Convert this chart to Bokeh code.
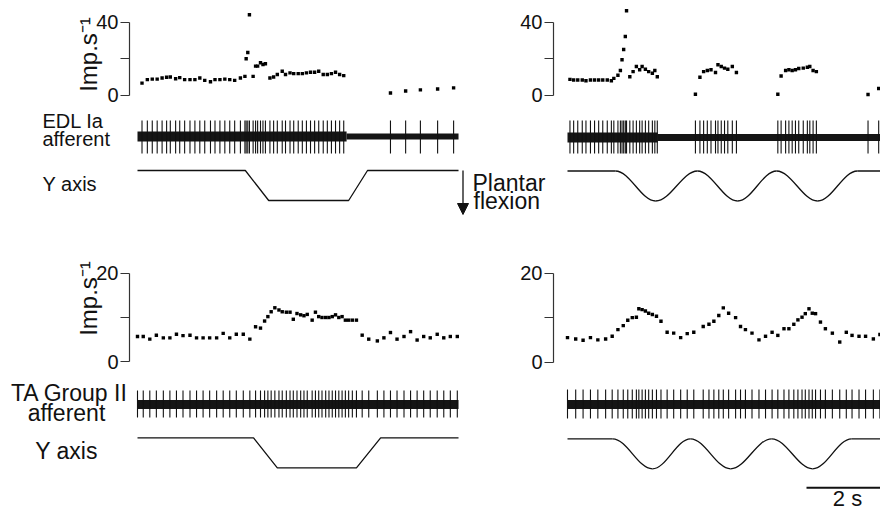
from bokeh.plotting import figure
from bokeh.models import Range1d, FixedTicker, Label, Arrow, NormalHead
from bokeh.layouts import column, row
from bokeh.embed import file_html
from bokeh.resources import INLINE

# ---------------- data ----------------
# Instantaneous discharge rate (imp/s) at each spike time (s from start of trace)
EDL_STEP_T = [0.11, 0.24, 0.36, 0.48, 0.60, 0.71, 0.80, 0.93, 1.03, 1.15, 1.28, 1.40, 1.52, 1.64, 1.78,
              1.89, 2.01, 2.13, 2.25, 2.37, 2.51, 2.62, 2.65, 2.69, 2.73, 2.82, 2.88, 2.93, 3.00, 3.06,
              3.12, 3.23, 3.32, 3.41, 3.53, 3.61, 3.72, 3.81, 3.92, 4.02, 4.12, 4.22, 4.32, 4.42, 4.53,
              4.63, 4.73, 4.83, 4.93, 5.03, 6.17, 6.54, 6.90, 7.32, 7.71]
EDL_STEP_R = [6.5, 8.4, 8.7, 8.7, 9.3, 9.7, 9.9, 8.9, 9.5, 8.4, 8.4, 8.4, 9.3, 8.0, 7.3,
              8.4, 8.4, 8.7, 8.4, 8.0, 9.3, 10.2, 19.9, 23.3, 44.0, 10.2, 15.8, 15.8, 17.7, 16.7,
              17.1, 9.3, 9.9, 11.2, 13.0, 11.2, 12.1, 11.7, 11.7, 11.7, 12.1, 12.5, 12.5, 13.0, 11.2,
              11.2, 11.7, 12.5, 11.2, 10.6, 1.1, 2.2, 2.8, 3.3, 3.9]

EDL_SINE_T = [0.06, 0.15, 0.25, 0.36, 0.45, 0.56, 0.66, 0.76, 0.86, 0.97, 1.07, 1.13, 1.23, 1.29, 1.33,
              1.37, 1.41, 1.44, 1.52, 1.60, 1.68, 1.76, 1.82, 1.90, 1.98, 2.07, 2.13, 2.19,
              3.12, 3.23, 3.32, 3.41, 3.50, 3.61, 3.67, 3.75, 3.83, 3.91, 4.02, 4.12,
              5.13, 5.21, 5.32, 5.40, 5.48, 5.56, 5.64, 5.75, 5.85, 5.91, 5.99, 6.07,
              7.33, 7.59, 7.70]
EDL_SINE_R = [8.7, 8.4, 8.4, 8.4, 8.0, 8.4, 8.4, 8.4, 8.4, 8.4, 8.0, 9.3, 11.0, 13.6, 19.5,
              25.1, 32.2, 46.3, 10.2, 13.0, 15.8, 14.0, 15.8, 14.3, 13.0, 12.1, 13.6, 10.2,
              0.6, 9.9, 13.0, 13.6, 14.0, 12.5, 16.7, 15.8, 14.9, 14.3, 15.8, 12.5,
              0.6, 10.6, 13.6, 14.0, 13.6, 14.0, 14.7, 14.9, 15.4, 15.8, 13.6, 13.0,
              0.4, 3.7, 5.6]

TA_STEP_T = [0.00, 0.14, 0.30, 0.46, 0.63, 0.79, 0.95, 1.11, 1.28, 1.44, 1.60, 1.76, 1.93, 2.09, 2.25,
             2.41, 2.58, 2.74, 2.88, 3.00, 3.10, 3.18, 3.26, 3.35, 3.45, 3.53, 3.63, 3.72, 3.80, 3.89,
             3.98, 4.06, 4.14, 4.26, 4.34, 4.42, 4.50, 4.59, 4.67, 4.75, 4.83, 4.91, 4.99, 5.07, 5.15,
             5.24, 5.34, 5.48, 5.64, 5.85, 6.01, 6.17, 6.33, 6.50, 6.66, 6.82, 6.98, 7.14, 7.31, 7.47,
             7.63, 7.80]
TA_STEP_R = [5.7, 5.7, 5.1, 6.0, 5.4, 5.4, 6.2, 5.9, 6.0, 5.4, 5.4, 5.4, 5.4, 6.4, 5.4,
             6.2, 6.2, 5.1, 7.9, 7.6, 9.2, 10.2, 11.3, 12.2, 11.7, 11.3, 11.2, 11.2, 9.6, 10.9,
             10.6, 10.4, 10.7, 9.4, 11.2, 10.2, 10.0, 10.0, 10.0, 10.2, 10.6, 10.0, 10.2, 9.4, 9.4,
             9.4, 9.4, 6.0, 5.1, 4.7, 5.4, 6.6, 5.1, 5.7, 6.8, 4.9, 5.7, 5.4, 6.2, 5.4,
             5.7, 5.7]

TA_SINE_T = [0.00, 0.20, 0.38, 0.56, 0.74, 0.93, 1.09, 1.23, 1.36, 1.47, 1.58, 1.68, 1.74, 1.82, 1.90,
             1.98, 2.07, 2.17, 2.28, 2.43, 2.59, 2.76, 2.92, 3.08, 3.31, 3.45, 3.57, 3.69, 3.80, 3.93,
             4.10, 4.22, 4.34, 4.50, 4.67, 4.83, 4.99, 5.13, 5.28, 5.40, 5.52, 5.62, 5.72, 5.80, 5.89,
             5.97, 6.05, 6.17, 6.29, 6.46, 6.64, 6.80, 6.94, 7.11, 7.27, 7.46, 7.62]
TA_SINE_R = [5.5, 5.2, 4.9, 5.5, 5.0, 5.2, 5.8, 7.3, 8.2, 9.4, 10.0, 10.1, 12.0, 11.8, 11.5,
             11.0, 10.7, 10.3, 9.2, 6.7, 6.5, 5.5, 6.4, 6.7, 8.0, 8.5, 9.2, 10.5, 12.2, 11.0,
             10.0, 8.0, 7.3, 6.5, 5.0, 5.8, 6.7, 6.0, 7.5, 7.5, 8.5, 9.5, 10.1, 10.9, 12.0,
             11.0, 10.9, 9.0, 7.5, 6.5, 4.5, 6.7, 6.0, 5.8, 5.8, 5.2, 6.2]

# Raw neurogram: spike amplitudes (up, down; a.u.) and baseline-noise band (start s, end s, half width)
EDL_STEP_SPIKE = (16, 17)
EDL_SINE_SPIKE = (17, 16)
TA_STEP_SPIKE = (14, 13)
TA_SINE_SPIKE = (15, 14)
EDL_STEP_NOISE_T0, EDL_STEP_NOISE_T1, EDL_STEP_NOISE_HW = [0.0, 5.1], [5.1, 7.83], [5.0, 3.0]
EDL_SINE_NOISE_T0, EDL_SINE_NOISE_T1, EDL_SINE_NOISE_HW = [0.0, 2.2], [2.2, 7.75], [5.0, 3.5]
TA_STEP_NOISE_T0, TA_STEP_NOISE_T1, TA_STEP_NOISE_HW = [0.0], [7.83], [4.5]
TA_SINE_NOISE_T0, TA_SINE_NOISE_T1, TA_SINE_NOISE_HW = [0.0], [7.75], [4.5]

# Y-axis (plantar flexion) displacement, normalised
EDL_RAMP_T = [0.0, 2.63, 3.20, 5.15, 5.61, 7.83]
TA_RAMP_T = [0.0, 2.83, 3.41, 5.34, 5.93, 7.83]
RAMP_POS = [0, 0, -1, -1, 0, 0]
EDL_SINE_EXT_T = [1.17, 2.15, 3.17, 4.15, 5.10, 6.10, 7.07]
TA_SINE_EXT_T = [1.10, 2.07, 3.00, 3.98, 4.98, 5.98, 6.93]
SINE_EXT_POS = [0, -1, 0, -1, 0, -1, 0]
SINE_DUR = 7.75

RATE_TICKS_TOP = [0, 20, 40]
RATE_LABELLED_TOP = [0, 40]
RATE_TICKS_BOT = [0, 10, 20]
RATE_LABELLED_BOT = [0, 20]
SCALE_S = 2

# ---------------- layout helpers (page pixels) ----------------
PXS = 41.0          # pixels per second
FONT = "Liberation Sans"
BEZ_K = 0.3634      # cubic-bezier control offset for a cosine-like half cycle
W_LEFT, W_RIGHT = 505, 375
W_ALL = W_LEFT + W_RIGHT


def xr(frame_left, frame_w, origin):
    s = (frame_left - origin) / PXS
    return Range1d(s, s + frame_w / PXS)


def yr(frame_top, frame_h, v0, p0, v1, p1):
    k = (p1 - p0) / (v1 - v0)
    span = -frame_h / k
    end = v0 + (p0 - frame_top) / (-k)
    return Range1d(end - span, end)


def make_fig(width, height, mb_left, x_range, y_range, axis):
    p = figure(width=width, height=height, x_range=x_range, y_range=y_range,
               output_backend="svg", toolbar_location=None, tools="",
               x_axis_location=None, y_axis_location=("left" if axis else None),
               min_border_left=mb_left, min_border_right=0, min_border_top=0, min_border_bottom=0)
    p.outline_line_color = None
    p.xgrid.visible = False
    p.ygrid.visible = False
    p.background_fill_color = "white"
    p.border_fill_color = "white"
    return p


def style_axis(p, ticks, labelled, label):
    ax = p.yaxis[0]
    ax.ticker = FixedTicker(ticks=ticks)
    ax.major_label_overrides = {t: (str(t) if t in labelled else "") for t in ticks}
    ax.bounds = (ticks[0], ticks[-1])
    ax.major_tick_out = 9
    ax.major_tick_in = 0
    ax.minor_tick_line_color = None
    ax.major_label_standoff = 2
    ax.major_label_text_font = FONT
    ax.major_label_text_font_size = "20px"
    ax.major_label_text_color = "#111111"
    ax.axis_line_color = "#333333"
    ax.major_tick_line_color = "#333333"
    ax.axis_line_width = 1.2
    ax.major_tick_line_width = 1.2
    if label:
        ax.axis_label = label
        ax.axis_label_text_font = FONT
        ax.axis_label_text_font_style = "normal"
        ax.axis_label_text_font_size = "24px"
        ax.axis_label_text_color = "#111111"
        ax.axis_label_standoff = -9


def rate_panel(width, height, top, x_off, mb_left, origin, t, r, p0, p_top, ticks, labelled, label):
    frame_left = x_off + mb_left
    p = make_fig(width, height, mb_left, xr(frame_left, width - mb_left, origin),
                 yr(top, height, 0, p0, ticks[-1], p_top), True)
    style_axis(p, ticks, labelled, label)
    p.scatter(t, r, marker="square", size=3.4, fill_color="black", line_color=None)
    return p


def add_text(p, x, baseline, text, size, align="left", x_range_name="default"):
    # place by visual middle: middle = baseline - 0.4 em
    p.add_layout(Label(x=x, y=baseline - 0.4 * size, text=text, text_font=FONT,
                       text_font_size=f"{size}px", text_color="#111111",
                       text_baseline="middle", text_align=align, x_range_name=x_range_name))


def neurogram(p, xname, yname, spike_t, amp, t0, t1, hw):
    p.quad(left=t0, right=t1, bottom=[-h for h in hw], top=hw, fill_color="#151515",
           line_color=None, x_range_name=xname, y_range_name=yname)
    up, down = amp
    p.segment(x0=spike_t, y0=[-down] * len(spike_t), x1=spike_t, y1=[up] * len(spike_t),
              line_color="#111111", line_width=1.1, x_range_name=xname, y_range_name=yname)


def ramp(p, xname, yname, t, pos):
    p.line(t, pos, line_color="#111111", line_width=1.3, x_range_name=xname, y_range_name=yname)


def sine(p, xname, yname, ext_t, ext_pos, dur):
    p.line([0, ext_t[0]], [ext_pos[0], ext_pos[0]], line_color="#111111", line_width=1.3,
           x_range_name=xname, y_range_name=yname)
    p.line([ext_t[-1], dur], [ext_pos[-1], ext_pos[-1]], line_color="#111111", line_width=1.3,
           x_range_name=xname, y_range_name=yname)
    x0, x1 = ext_t[:-1], ext_t[1:]
    y0, y1 = ext_pos[:-1], ext_pos[1:]
    cx0 = [a + BEZ_K * (b - a) for a, b in zip(x0, x1)]
    cx1 = [b - BEZ_K * (b - a) for a, b in zip(x0, x1)]
    p.bezier(x0=x0, y0=y0, x1=x1, y1=y1, cx0=cx0, cy0=y0, cx1=cx1, cy1=y1,
             line_color="#111111", line_width=1.3, x_range_name=xname, y_range_name=yname)


# ---------------- band A: EDL rates (page y 0-108) ----------------
A1 = rate_panel(W_LEFT, 108, 0, 0, 129, 137, EDL_STEP_T, EDL_STEP_R, 94.5, 21.5,
                RATE_TICKS_TOP, RATE_LABELLED_TOP, "Imp.s⁻¹")
A2 = rate_panel(W_RIGHT, 108, 0, W_LEFT, 48, 567, EDL_SINE_T, EDL_SINE_R, 94.8, 21.8,
                RATE_TICKS_TOP, RATE_LABELLED_TOP, None)

# ---------------- band B: EDL neurogram + position (page y 108-222) ----------------
B = make_fig(W_ALL, 114, 0, Range1d(0, W_ALL), Range1d(222, 108), False)
B.extra_x_ranges = {"L": xr(0, W_ALL, 137), "R": xr(0, W_ALL, 567)}
B.extra_y_ranges = {"spkL": yr(108, 114, 0, 136, 1, 135), "spkR": yr(108, 114, 0, 137, 1, 136),
                    "posL": yr(108, 114, 0, 170, -1, 200), "posR": yr(108, 114, 0, 170.5, -1, 200.5)}
neurogram(B, "L", "spkL", EDL_STEP_T, EDL_STEP_SPIKE, EDL_STEP_NOISE_T0, EDL_STEP_NOISE_T1, EDL_STEP_NOISE_HW)
neurogram(B, "R", "spkR", EDL_SINE_T, EDL_SINE_SPIKE, EDL_SINE_NOISE_T0, EDL_SINE_NOISE_T1, EDL_SINE_NOISE_HW)
ramp(B, "L", "posL", EDL_RAMP_T, RAMP_POS)
sine(B, "R", "posR", EDL_SINE_EXT_T, SINE_EXT_POS, SINE_DUR)
add_text(B, 42, 128.5, "EDL Ia", 20)
add_text(B, 42, 146.5, "afferent", 20)
add_text(B, 42, 191.5, "Y axis", 20)
add_text(B, 472, 191.5, "Plantar", 23)
add_text(B, 473, 210, "flexion", 23)
B.add_layout(Arrow(x_start=462.5, y_start=170, x_end=462.5, y_end=214, line_width=1.3,
                   line_color="#111111",
                   end=NormalHead(size=11, fill_color="#111111", line_color="#111111")))

# ---------------- band C: TA rates (page y 222-374) ----------------
C1 = rate_panel(W_LEFT, 152, 222, 0, 129, 137, TA_STEP_T, TA_STEP_R, 361.2, 272.8,
                RATE_TICKS_BOT, RATE_LABELLED_BOT, "Imp.s⁻¹")
C2 = rate_panel(W_RIGHT, 152, 222, W_LEFT, 48, 567, TA_SINE_T, TA_SINE_R, 361.5, 272.8,
                RATE_TICKS_BOT, RATE_LABELLED_BOT, None)

# ---------------- band D: TA neurogram + position + scale bar (page y 374-510) ----------------
D = make_fig(W_ALL, 136, 0, Range1d(0, W_ALL), Range1d(510, 374), False)
D.extra_x_ranges = {"L": xr(0, W_ALL, 137), "R": xr(0, W_ALL, 567)}
D.extra_y_ranges = {"spkL": yr(374, 136, 0, 404, 1, 403), "spkR": yr(374, 136, 0, 404, 1, 403),
                    "posL": yr(374, 136, 0, 437.3, -1, 467.3), "posR": yr(374, 136, 0, 438.3, -1, 468.3)}
neurogram(D, "L", "spkL", TA_STEP_T, TA_STEP_SPIKE, TA_STEP_NOISE_T0, TA_STEP_NOISE_T1, TA_STEP_NOISE_HW)
neurogram(D, "R", "spkR", TA_SINE_T, TA_SINE_SPIKE, TA_SINE_NOISE_T0, TA_SINE_NOISE_T1, TA_SINE_NOISE_HW)
ramp(D, "L", "posL", TA_RAMP_T, RAMP_POS)
sine(D, "R", "posR", TA_SINE_EXT_T, SINE_EXT_POS, SINE_DUR)
add_text(D, 69, 401.7, "TA Group II", 23, "center")
add_text(D, 66, 421.7, "afferent", 23, "center")
add_text(D, 66, 460, "Y axis", 23, "center")

SB_T0 = (806 - 567) / PXS
D.segment(x0=[SB_T0], y0=[487.3], x1=[SB_T0 + SCALE_S], y1=[487.3], line_color="#111111",
          line_width=2, x_range_name="R")
add_text(D, SB_T0 + SCALE_S / 2, 507, f"{SCALE_S} s", 22, "center", x_range_name="R")

layout = column(row(A1, A2), B, row(C1, C2), D)
open("out.html", "w").write(file_html(layout, INLINE))
